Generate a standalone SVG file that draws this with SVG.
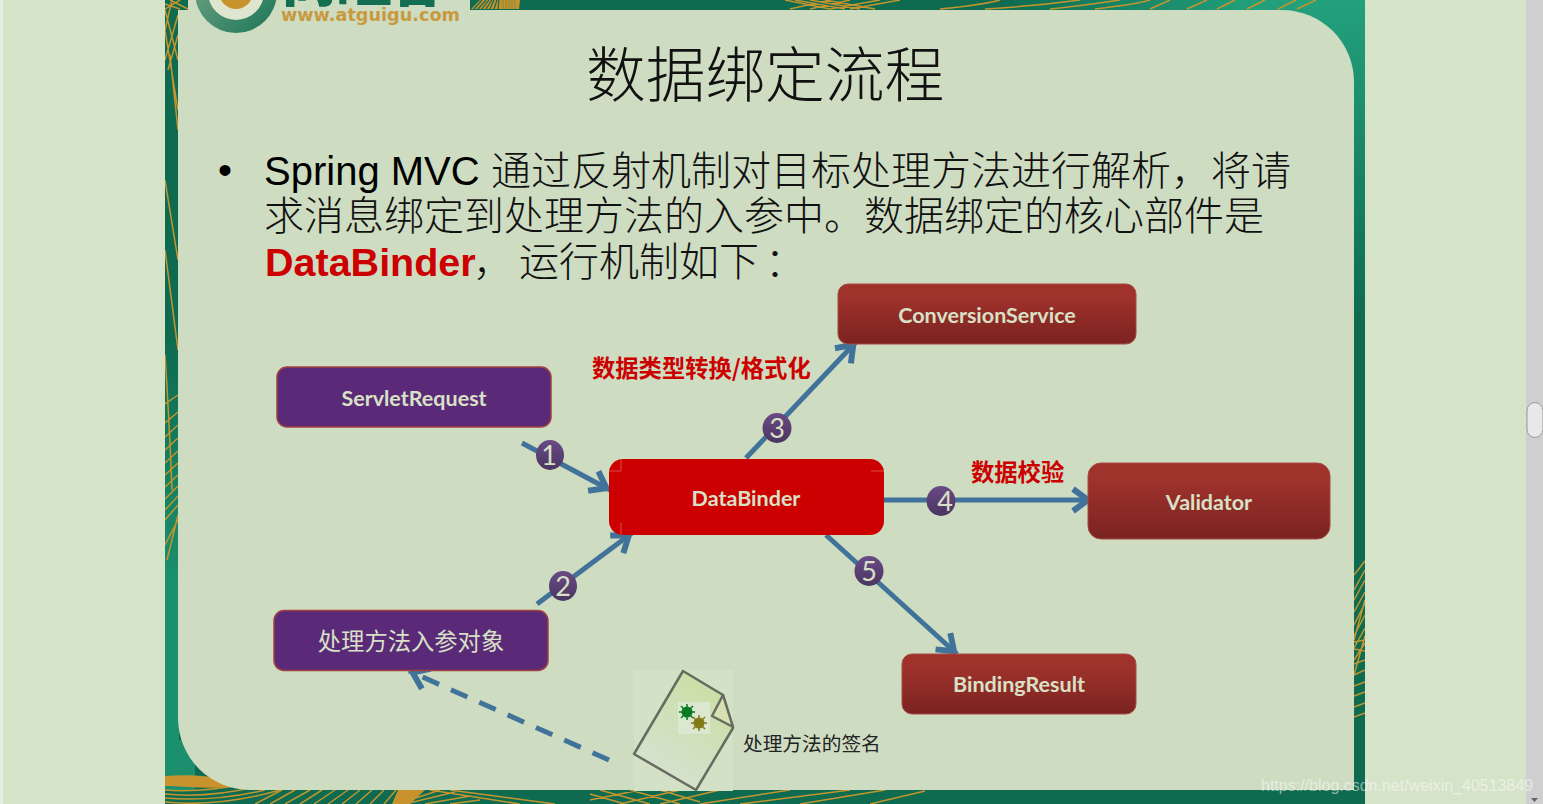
<svg xmlns="http://www.w3.org/2000/svg" width="1543" height="804" viewBox="0 0 1543 804">
<style>
.gold{fill:none;stroke:#c4952f;stroke-width:1.5}
.cjk{font-family:"Noto Sans CJK SC","Liberation Sans",sans-serif}
.body{font-size:40px;fill:#111;font-weight:300}
.lat{font-family:"Liberation Sans","Noto Sans CJK SC",sans-serif}
.nt{font-family:Lato,"Noto Sans CJK SC",sans-serif;font-weight:700;font-size:21.500px;fill:#d8e0c6;text-anchor:middle}
.red{fill:url(#gRed);stroke:#a84a44;stroke-width:1}
.pur{fill:#5a2a78;stroke:#a04040;stroke-width:1.5}
.lab{font-size:23.3px;font-weight:700;fill:#cc0000}
.con{fill:none;stroke:#41739a;stroke-width:5}
.bd{fill:url(#gBad)}
.bn{font-family:Lato,sans-serif;font-size:27px;fill:#d8e0c6;text-anchor:middle}
</style>
<defs>
<linearGradient id="gRed" x1="0" y1="0" x2="0" y2="1"><stop offset="0.2" stop-color="#a0322c"/><stop offset="1" stop-color="#7a2320"/></linearGradient>
<linearGradient id="gBad" x1="0" y1="0" x2="0" y2="1"><stop offset="0" stop-color="#6a4a86"/><stop offset="1" stop-color="#4a3560"/></linearGradient>
<linearGradient id="gTop" gradientUnits="userSpaceOnUse" x1="1000" y1="0" x2="1260" y2="0"><stop offset="0" stop-color="#0e6b50"/><stop offset="1" stop-color="#23a07c"/></linearGradient>
<linearGradient id="gRight" gradientUnits="userSpaceOnUse" x1="0" y1="0" x2="0" y2="320"><stop offset="0" stop-color="#23a07c"/><stop offset="1" stop-color="#0e6b50"/></linearGradient>
<linearGradient id="gLeft" gradientUnits="userSpaceOnUse" x1="0" y1="340" x2="0" y2="580"><stop offset="0" stop-color="#0e6b50"/><stop offset="1" stop-color="#1b8f6e"/></linearGradient>
<linearGradient id="gRing" x1="0" y1="0" x2="1" y2="1"><stop offset="0.3" stop-color="#5f9a7c"/><stop offset="1" stop-color="#1c7557"/></linearGradient>
<linearGradient id="gDoc" x1="0.8" y1="0" x2="0.2" y2="1"><stop offset="0" stop-color="#c9dea0"/><stop offset="1" stop-color="#d6e3d6"/></linearGradient>
<marker id="arr" markerUnits="userSpaceOnUse" markerWidth="34" markerHeight="34" refX="28" refY="15" orient="auto" overflow="visible">
<path d="M9,4 L24,15 L9,26" fill="none" stroke="#41739a" stroke-width="6"/>
</marker>
<clipPath id="cSlide"><rect x="165" y="0" width="1200" height="804"/></clipPath>
<clipPath id="cLeft"><rect x="165" y="0" width="13" height="804"/></clipPath>
</defs>

<rect id="page" width="1543" height="804" fill="#d5e4c9"/>
<rect x="0" y="0" width="3" height="804" fill="#e6eee2"/>
<rect x="1526" y="0" width="17" height="804" fill="#cfcfcf"/>
<rect x="1527" y="402.500" width="16" height="35" rx="8" fill="#e8e8e8" stroke="#9a9a9a" stroke-width="1"/>
<path d="M1531,798 h7 l-3.500,4 z" fill="#666"/>

<g id="border">
<rect x="165" y="0" width="1200" height="804" fill="#0e6b50"/>
<rect x="1000" y="0" width="365" height="12" fill="url(#gTop)"/>
<rect x="1260" y="0" width="105" height="320" fill="url(#gRight)"/>
<rect x="165" y="340" width="14" height="400" fill="url(#gLeft)"/>
<path d="M165,740 h30 v50 h-30 z" fill="#1b8f6e"/>
<g clip-path="url(#cSlide)">
<path class="gold" d="M165,10 L178,60 M172,0 L165,30 M178,15 L165,60 M178,35 L168,70 M165,30 L178,110 M170,55 L178,130 M165,180 L178,260 M165,250 L178,350 M165,355 C168,400 170,440 172,490 M178,395 L165,404"/>
<path class="gold" d="M178,412 L165,423 M178,425 L165,437 M178,438 L165,450 M178,451 L165,463 M178,463 L165,475 M178,475 L165,487 M178,486 L165,499 M178,496 L165,510 M178,505 L165,520 M178,515 L167,560 M178,520 L165,545"/>
<path class="gold" d="M1354,575 L1365,561 M1354,590 L1365,570 M1354,600 L1365,580 M1354,612 L1365,592 M1354,625 L1365,603 M1354,636 L1365,615 M1354,648 L1365,628 M1354,660 L1365,643 M1354,675 L1365,636 M1354,640 L1365,600 M1354,642 L1365,640 M1354,649 L1365,651 M1354,664 L1365,660 M1354,675 L1365,670 M1354,686 L1365,682 M1354,696 L1365,692 M1354,707 L1365,703 M1354,717 L1365,713"/>
<path class="gold" d="M1150,9 L1170,0 M1187,9 L1207,0 M1217,9 L1235,0 M1247,9 L1265,0 M1278,9 L1296,0 M1297,9 L1316,0"/>
<path class="gold" d="M1095,9 C1120,6 1140,3 1150,0 M1050,9 C1080,6 1100,3 1120,0 M985,9 C1020,7 1050,4 1080,0 M940,9 C970,6 990,3 1000,0"/>
<path class="gold" d="M785,0 L830,9 M795,0 L845,9 M810,0 L860,9 M825,0 L875,9 M790,9 L830,0 M810,9 L850,0 M830,9 L880,0 M850,9 L900,0"/>
<path d="M471,9 L480,0 H520 L519,9 Z" fill="#c8922c"/>
<path d="M470,9 L478,0 M474,9 L482,0 M478,9 L486,0 M482,9 L489,0 M486,9 L492,0 M490,9 L494,0 M494,9 L497,0 M498,9 L499,0" stroke="#0e6b50" stroke-width="1.2"/>
<path d="M503,9 L503,0 M506,9 L506,0 M509,9 L509,0 M512,9 L512,0 M515,9 L515,0" stroke="#7d8a3a" stroke-width="1"/>
<path class="gold" d="M165,4 L180,9 M170,0 L188,9 M180,0 L165,9"/>
<path d="M165,776 C190,774 205,776 222,778 L235,786 C210,790 185,786 165,786 Z" fill="#c8922c"/>
<path class="gold" d="M165,790 C190,792 215,790 245,784 M165,794 C195,797 225,794 255,787 M165,798 C200,801 235,797 265,790 M165,802 C205,806 245,800 280,790"/>
<path class="gold" d="M255,804 L282,790 M270,804 L295,790 M285,804 L310,790 M300,804 L322,790 M314,804 L335,790 M328,804 L348,790 M342,804 L360,790 M356,804 L372,790 M370,804 L384,790 M384,804 L396,790"/>
<path d="M392,804 L398,790 H425 L410,804 Z" fill="#c8922c"/>
<path class="gold" d="M410,800 L440,790 M405,804 L455,792 M425,804 L470,796 M450,804 L480,800 M430,790 L520,804 M450,790 L555,804"/>
<path class="gold" d="M590,794 L625,804 M600,790 L650,804 M630,790 L680,804 M660,790 L700,802 M590,800 L640,790 M620,804 L680,790 M660,804 L720,790 M700,804 L790,790 M740,804 L850,790 M800,804 L885,790 M870,804 L925,791"/>
</g>
</g>

<path id="panel" d="M178,10 H1282 A72,72 0 0 1 1354,82 V790 H250 A72,72 0 0 1 178,718 Z" fill="#cedcc1"/>
<rect x="188" y="0" width="282" height="12" fill="#cedcc1"/>

<g id="logo">
<circle cx="236" cy="-8" r="41" fill="url(#gRing)"/>
<circle cx="236" cy="-8" r="28" fill="#dfe6cf"/>
<circle cx="236" cy="-8" r="17" fill="#c8922c"/>
<text x="280" y="1" font-family="'Noto Sans CJK SC',sans-serif" font-weight="900" font-size="58" fill="#146e52" textLength="166">尚硅谷</text>
<text x="281" y="21" font-family="'DejaVu Sans',sans-serif" font-weight="700" font-size="17.500" fill="#c8993f" textLength="179" lengthAdjust="spacingAndGlyphs">www.atguigu.com</text>
</g>

<text id="title" class="cjk" x="586" y="97" font-size="59.700" fill="#111" font-weight="300">数据绑定流程</text>

<g id="body">
<text class="lat" x="218" y="184" font-size="40" fill="#000">•</text>
<text class="lat" x="264" y="185" font-size="40" fill="#000">Spring MVC</text>
<text class="cjk body" x="491" y="185">通过反射机制对目标处理方法进行解析，将请</text>
<text class="cjk body" x="264" y="230">求消息绑定到处理方法的入参中。数据绑定的核心部件是</text>
<text class="lat" x="265" y="276" font-size="39.500" font-weight="700" fill="#cc0000">DataBinder</text>
<text class="cjk body" x="473" y="276">，</text>
<text class="cjk body" x="519" y="276">运行机制如下</text>
<text class="cjk body" x="765" y="276">：</text>
</g>

<g id="connectors">
<path class="con" d="M522,443 L610,490" marker-end="url(#arr)"/>
<path class="con" d="M537,604 L632,533" marker-end="url(#arr)"/>
<path class="con" d="M746,458 L856,342" marker-end="url(#arr)"/>
<path class="con" d="M884,500 L1092,500" marker-end="url(#arr)"/>
<path class="con" d="M826,535 L957,654" marker-end="url(#arr)"/>
<path class="con" d="M609,760 L409,671" stroke-dasharray="18,13" marker-end="url(#arr)"/>
</g>

<g id="node-servletrequest"><rect class="pur" x="277" y="367" width="274" height="60" rx="10"/><text class="nt" x="414" y="406">ServletRequest</text></g>
<g id="node-args"><rect class="pur" x="274" y="610.500" width="274" height="60" rx="10"/><text class="nt" x="411" y="650" style="font-family:'Noto Sans CJK SC',sans-serif;font-size:23.300px;font-weight:400">处理方法入参对象</text></g>
<g id="node-databinder"><rect x="609" y="459" width="275" height="76" rx="14" fill="#cc0000"/>
<path d="M621,459 V471 H609 M871,471 H884 M621,523 V535" fill="none" stroke="#dd4a4a" stroke-width="1"/>
<text class="nt" x="746" y="506">DataBinder</text></g>
<g id="node-conversion"><rect class="red" x="838" y="284" width="298" height="60" rx="10"/><text class="nt" x="987" y="323">ConversionService</text></g>
<g id="node-validator"><rect class="red" x="1088" y="463" width="242" height="76" rx="13"/><text class="nt" x="1209" y="510">Validator</text></g>
<g id="node-bindingresult"><rect class="red" x="902" y="654" width="234" height="60" rx="10"/><text class="nt" x="1019" y="692">BindingResult</text></g>

<g id="badges">
<ellipse class="bd" cx="550" cy="455" rx="14" ry="15"/><text class="bn" x="549" y="465">1</text>
<ellipse class="bd" cx="563" cy="586" rx="14" ry="15"/><text class="bn" x="563" y="596">2</text>
<ellipse class="bd" cx="777" cy="428" rx="14.500" ry="15"/><text class="bn" x="777" y="438">3</text>
<ellipse class="bd" cx="941" cy="501" rx="14.500" ry="15"/><text class="bn" x="945" y="511">4</text>
<ellipse class="bd" cx="869" cy="571" rx="14.500" ry="15"/><text class="bn" x="869" y="581">5</text>
</g>

<text class="cjk lab" x="592" y="377">数据类型转换/格式化</text>
<text class="cjk lab" x="971" y="481">数据校验</text>

<g id="node-document">
<rect x="634" y="670" width="99" height="121" fill="#d3e2c6"/>
<path d="M683,671 L723,695 L733,728 L696,790 L634,754 Z" fill="url(#gDoc)" stroke="#666c60" stroke-width="2.500" stroke-linejoin="round"/>
<rect x="678" y="702" width="32" height="32" fill="#dce7cf"/>
<path d="M723,695 L712,716 L733,727 Z" fill="#d6e0b0" stroke="#666c60" stroke-width="2.500" stroke-linejoin="round"/>
<circle cx="687" cy="712" r="5.500" fill="#0a7a25"/>
<path d="M687,704 V720 M679,712 H695 M681,706 L693,718 M693,706 L681,718" stroke="#0a7a25" stroke-width="1.500"/>
<circle cx="699" cy="723" r="5.500" fill="#827b18"/>
<path d="M699,715 V731 M691,723 H707 M693,717 L705,729 M705,717 L693,729" stroke="#827b18" stroke-width="1.500"/>
</g>
<text class="cjk" x="743" y="751" font-size="19.700" fill="#222">处理方法的签名</text>

<text id="watermark" x="1261" y="791" font-family="'Liberation Sans',sans-serif" font-size="16" fill="#ffffff" fill-opacity="0.5">https://blog.csdn.net/weixin_40513849</text>
</svg>
